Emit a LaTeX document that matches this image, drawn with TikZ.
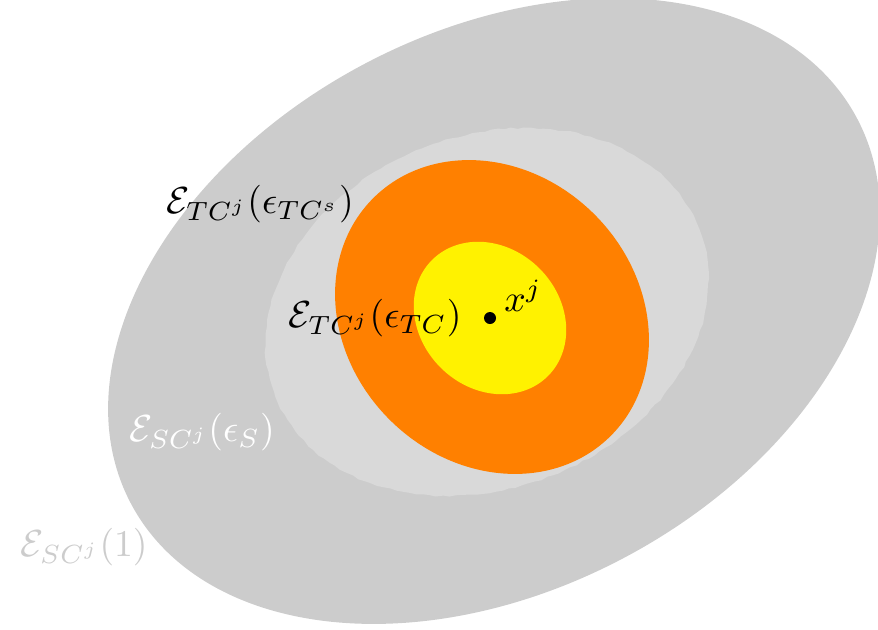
\documentclass[tikz,border=0pt]{standalone}
\usetikzlibrary{decorations.pathmorphing}
\definecolor{outergray}{RGB}{204,204,204}
\definecolor{innergray}{RGB}{217,217,217}
\definecolor{setorange}{RGB}{255,128,0}
\definecolor{setyellow}{RGB}{255,242,0}
\newcommand{\lblscale}[1]{\scalebox{1.13}{#1}}
\tikzset{
  lbl/.style={inner sep=0pt, font=\normalsize},
  jag/.style={decorate, decoration={random steps, segment length=2pt, amplitude=0.25pt}}
}
\begin{document}
\begin{tikzpicture}[scale=0.3]
\pgfmathsetseed{7}
\useasboundingbox (0pt,0pt) rectangle (878pt,629pt);
% outer set
\fill[outergray, rotate around={28:(494pt,318pt)}] (494pt,318pt) ellipse [x radius=411pt, y radius=279pt];
% light grey set
\fill[innergray, jag, rotate around={21.7:(487pt,317pt)}] (487pt,317pt) ellipse [x radius=228pt, y radius=176pt];
% orange set
\fill[setorange, rotate around={-45:(492pt,312pt)}] (492pt,312pt) ellipse [x radius=168pt, y radius=145pt];
% yellow set
\fill[setyellow, rotate around={-45:(490pt,311pt)}] (490pt,311pt) ellipse [x radius=82pt, y radius=70pt];
% centre point
\fill[black] (490pt,311pt) circle [radius=6pt];
\node[lbl] (xj) at (523pt,333pt) {\lblscale{$x^j$}};
\node[lbl] (tcs) at (260pt,425pt) {\lblscale{$\mathcal{E}_{TC^j}(\epsilon_{TC^s})$}};
\node[lbl] (tc) at (375pt,311pt) {\lblscale{$\mathcal{E}_{TC^j}(\epsilon_{TC})$}};
\node[lbl, text=white] (sc) at (202pt,197pt) {\lblscale{$\mathcal{E}_{SC^j}(\epsilon_{S})$}};
\node[lbl, text=outergray] (sc1) at (84pt,82pt) {\lblscale{$\mathcal{E}_{SC^j}(1)$}};
\end{tikzpicture}
\end{document}
